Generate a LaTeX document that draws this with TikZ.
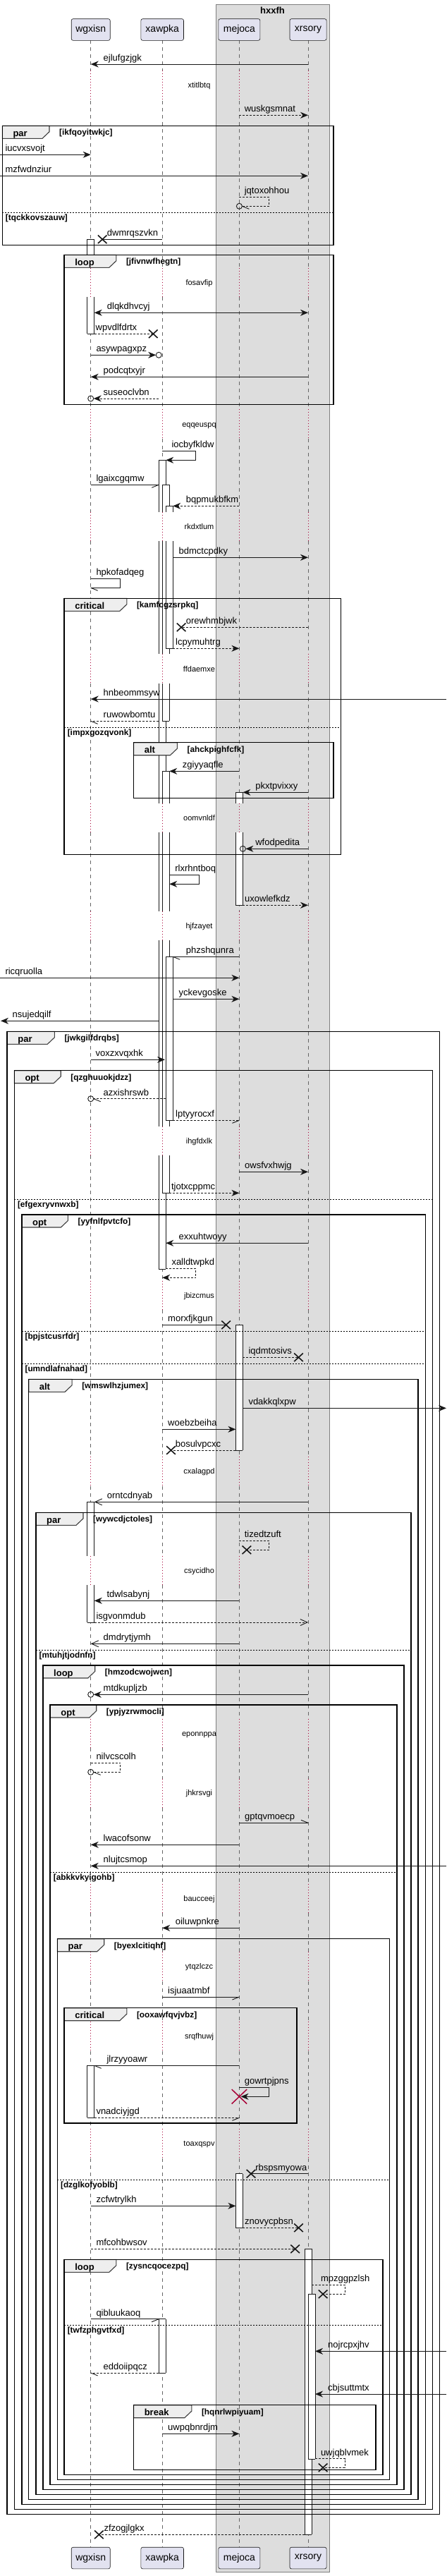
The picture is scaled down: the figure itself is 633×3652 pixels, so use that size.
\documentclass[tikz,border=0pt]{standalone}
\usepackage{fontspec}
\setmainfont{Liberation Sans}
\usetikzlibrary{arrows.meta,shapes.misc}
\definecolor{pcol}{HTML}{E2E2F0}
\definecolor{gbox}{HTML}{DDDDDD}
\definecolor{crim}{HTML}{A80036}
\definecolor{ink}{HTML}{181818}
\definecolor{tabc}{HTML}{EEEEEE}
\tikzset{
 part/.style={draw=ink, fill=pcol, line width=0.6pt, rounded corners=2.5pt, minimum height=30.6pt, inner sep=0pt, font=\fontsize{14}{16}\selectfont},
 lifeline/.style={draw=black!60, line width=0.7pt, dash pattern=on 5pt off 5pt},
 dline/.style={draw=crim, line width=0.8pt, dash pattern=on 1pt off 3pt},
 msg/.style={draw=ink, line width=0.9pt},
 dmsg/.style={msg, dash pattern=on 3pt off 2pt},
 tipF/.style={-{Stealth[length=11pt,width=9pt,inset=3.5pt]}},
 tipB/.style={-{Straight Barb[length=10pt,width=9pt]}},
 F/.style={msg,tipF}, DF/.style={dmsg,tipF}, B/.style={msg,tipB}, DB/.style={dmsg,tipB},
 lbl/.style={anchor=base west, inner sep=0pt, font=\fontsize{13}{15}\selectfont},
 dlbl/.style={anchor=base, inner sep=0pt, font=\fontsize{11}{13}\selectfont},
 cond/.style={anchor=base west, inner sep=0pt, font=\bfseries\fontsize{11.8}{13}\selectfont},
 kw/.style={anchor=base west, inner sep=0pt, font=\bfseries\fontsize{13}{15}\selectfont},
 frm/.style={draw=black, line width=1.5pt},
 tabs/.style={fill=tabc, draw=black!75, line width=1.1pt},
 sepl/.style={draw=black, line width=0.8pt, dash pattern=on 2pt off 2pt},
 xm/.style={cross out, draw=ink, line width=1.6pt, minimum width=11pt, minimum height=10pt, inner sep=0pt},
 circ/.style={circle, draw=ink, line width=0.9pt, minimum size=8pt, inner sep=0pt},
 barline/.style={draw=ink, line width=0.9pt},
}
\newcommand{\aseg}[5]{%
 \fill[white] (#1,#2) rectangle ({#1+10},#3);
 \draw[barline] (#1,#2) -- (#1,#3);
 \draw[barline] ({#1+10},#2) -- ({#1+10},#3);
 \ifnum#4=1 \draw[barline] (#1,#2) -- ({#1+10},#2);\fi
 \ifnum#5=1 \draw[barline] (#1,#3) -- ({#1+10},#3);\fi}
\newcommand{\sqmsg}[7]{%
 \coordinate (#1a) at (#3,#5); \coordinate (#1b) at (#4,#5);
 \draw[#2] (#1a) -- (#1b);
 \node[lbl] (#1t) at (#6,{#5-4.5}) {#7};}
\newcommand{\selfm}[9]{%
 \coordinate (#1a) at (#3,#5); \coordinate (#1b) at (#7,#6);
 \draw[#2] (#1a) -- (#4,#5) -- (#4,#6) -- (#1b);
 \node[lbl] (#1t) at (#8,{#5-4.5}) {#9};}
\newcommand{\frmbox}[8]{%
 \draw[tabs] (#2,#4) -- (#6,#4) -- (#6,{#4+8.5}) -- ({#6-10},{#4+18}) -- (#2,{#4+18}) -- cycle;
 \draw[frm] (#2,#4) rectangle (#3,#5);
 \node[kw] (#1k) at ({#2+15},{#4+15}) {#7};
 \node[cond] (#1c) at ({#6+14},{#4+13.5}) {#8};}
\newcommand{\fsep}[5]{%
 \draw[sepl] (#2,#4) -- (#3,#4);
 \node[cond] (#1) at ({#2+4.5},{#4+11}) {#5};}
\newcommand{\dly}[3]{\node[dlbl] (#1) at (282.5,{#2+3.5}) {#3};}
\newcommand{\xat}[3]{\node[xm] (#1) at (#2,#3) {};}
\newcommand{\cat}[3]{\node[circ] (#1) at (#2,#3) {};}
\newcommand{\hst}[3]{\draw[msg] (#1) -- ++(#2,#3);}
\def\dashsegs{57.3/100, 143.3/380, 420.7/580, 622/725.7, 767.3/926.7, 969.3/1138.7, 1180/1291.7, 1332.7/1596.7, 1638.3/1815.7, 1857.3/2065, 2107/2205.7, 2247.3/2436.7, 2478.3/2521.5, 2563/2670.7, 2712.3/2767.3, 2809/2865.7, 2907.5/3018.3, 3060/3610.7}
\def\dotsegs{100/143.3, 380/420.7, 580/622, 725.7/767.3, 926.7/969.3, 1138.7/1180, 1291.7/1332.7, 1596.7/1638.3, 1815.7/1857.3, 2065/2107, 2205.7/2247.3, 2436.7/2478.3, 2521.5/2563, 2670.7/2712.3, 2767.3/2809, 2865.7/2907.5, 3018.3/3060}
\begin{document}
\begin{tikzpicture}[x=1pt,y=-1pt]
\useasboundingbox (0,0) rectangle (633,3652);
\fill[white] (0,0) rectangle (633,3652);
% group box
\draw[fill=gbox, draw=black!50, line width=0.6pt] (306,6) rectangle (467,3646.7);
\node[anchor=base, inner sep=0pt, font=\bfseries\fontsize{13}{15}\selectfont] (grp) at (386.5,19) {hxxfh};
% lifelines
\foreach \lx in {128.7,230.2,339.4,437}{
 \foreach \a/\b in \dashsegs {\draw[lifeline] (\lx,\a) -- (\lx,\b);}
 \foreach \a/\b in \dotsegs {\draw[dline] (\lx,\a) -- (\lx,\b);}
}
% participants
\node[part, minimum width=55pt] (wgT) at (128.7,42) {wgxisn};
\node[part, minimum width=60.6pt] (xaT) at (230.2,42) {xawpka};
\node[part, minimum width=59pt] (meT) at (339.4,42) {mejoca};
\node[part, minimum width=52.1pt] (xrT) at (437,42) {xrsory};
\node[part, minimum width=55pt] (wgB) at (128.7,3626.5) {wgxisn};
\node[part, minimum width=60.6pt] (xaB) at (230.2,3626.5) {xawpka};
\node[part, minimum width=59pt] (meB) at (339.4,3626.5) {mejoca};
\node[part, minimum width=52.1pt] (xrB) at (437,3626.5) {xrsory};
% activation bars
\aseg{123.7}{339.3}{380}{1}{0}
\aseg{123.7}{420.7}{473.3}{0}{1}
\aseg{123.7}{2129.3}{2205.7}{1}{0}
\aseg{123.7}{2247.3}{2300}{0}{1}
\aseg{123.7}{2928.3}{3002.3}{1}{1}
\aseg{225.2}{652.3}{725.7}{1}{0}
\aseg{225.2}{767.3}{926.7}{0}{0}
\aseg{225.2}{969.3}{1138.7}{0}{0}
\aseg{225.2}{1180}{1291.7}{0}{0}
\aseg{225.2}{1332.7}{1596.7}{0}{0}
\aseg{225.2}{1638.3}{1799.3}{0}{1}
\aseg{230.2}{687.3}{725.7}{1}{0}
\aseg{230.2}{767.3}{926.7}{0}{0}
\aseg{230.2}{969.3}{1022.3}{0}{1}
\aseg{235.2}{717.3}{725.7}{1}{0}
\aseg{235.2}{767.3}{919.3}{0}{1}
\aseg{230.2}{1093.3}{1138.7}{1}{0}
\aseg{230.2}{1180}{1291.7}{0}{0}
\aseg{230.2}{1332.7}{1596.7}{0}{0}
\aseg{230.2}{1638.3}{1691.3}{0}{1}
\aseg{235.2}{1356.3}{1588.3}{1}{1}
\aseg{225.2}{3287.7}{3364}{1}{1}
\aseg{334.4}{1123.3}{1138.7}{1}{0}
\aseg{334.4}{1180}{1283.3}{0}{1}
\aseg{334.4}{1878.3}{2056}{1}{1}
\aseg{334.4}{3081.7}{3158.3}{1}{1}
\aseg{432}{3188.3}{3593.3}{1}{1}
\aseg{437}{3252.3}{3486}{1}{1}
% frames
\frmbox{f1}{3.3}{473}{178.3}{347.3}{70}{par}{[ikfqoyitwkjc]}
\fsep{s1}{3.3}{473}{301.7}{[tqckkovszauw]}
\frmbox{f2}{91.1}{473.1}{361.3}{573.3}{164.8}{loop}{[jfivnwfhegtn]}
\frmbox{f3}{91.1}{483.3}{848.3}{1211.7}{179.8}{critical}{[kamfcgzsrpkq]}
\fsep{s3}{91.1}{483.3}{1031.3}{[impxgozqvonk]}
\frmbox{f4}{189.6}{473.1}{1052.7}{1131.3}{251.4}{alt}{[ahckpighfcfk]}
\frmbox{f5}{10.2}{623.7}{1462.3}{3564.3}{77.3}{par}{[jwkgilfdrqbs]}
\frmbox{f6}{20.3}{613.5}{1517.7}{3557.3}{86.2}{opt}{[qzghuuokjdzz]}
\fsep{s6}{20.3}{613.5}{1700.3}{[efgexryvnwxb]}
\frmbox{f7}{30.9}{603.3}{1722}{3550.3}{96.4}{opt}{[yyfnlfpvtcfo]}
\fsep{s7a}{30.9}{603.3}{1887.3}{[bpjstcusrfdr]}
\fsep{s7b}{30.9}{603.3}{1933.3}{[umndlafnahad]}
\frmbox{f8}{40.7}{593.2}{1955.3}{3543.3}{102.1}{alt}{[wmswlhzjumex]}
\frmbox{f9}{50.9}{583}{2144.3}{3536.3}{118}{par}{[wywcdjctoles]}
\fsep{s9}{50.9}{583}{2339.3}{[mtuhjtjodnfn]}
\frmbox{f10}{61}{572.8}{2361}{3529.3}{134.7}{loop}{[hmzodcwojwcn]}
\frmbox{f11}{71.2}{563}{2417}{3522.3}{136.7}{opt}{[ypjyzrwmocli]}
\fsep{s11}{71.2}{563}{2654.3}{[abkkvkyigohb]}
\frmbox{f12}{81.4}{552.5}{2748.7}{3515.3}{147.7}{par}{[byexlcitiqhf]}
\fsep{s12}{81.4}{552.5}{3090}{[dzglkofyoblb]}
\frmbox{f13}{91.1}{421.1}{2846.7}{3010}{179.8}{critical}{[ooxawfqvjvbz]}
\frmbox{f14}{91.1}{543.1}{3203.3}{3508.3}{164.8}{loop}{[zysncqocezpq]}
\fsep{s14}{91.1}{543.1}{3296.3}{[twfzphgvtfxd]}
\frmbox{f15}{189.6}{533}{3409.7}{3501.7}{271.8}{break}{[hqnrlwpiyuam]}
% delays
\dly{d1}{121}{xtitlbtq}
\dly{d2}{401}{fosavfip}
\dly{d3}{601.7}{eqqeuspq}
\dly{d4}{747.3}{rkdxtlum}
\dly{d5}{949.3}{ffdaemxe}
\dly{d6}{1160}{oomvnldf}
\dly{d7}{1313.3}{hjfzayet}
\dly{d8}{1618.3}{ihgfdxlk}
\dly{d9}{1836.7}{jbizcmus}
\dly{d10}{2086}{cxalagpd}
\dly{d11}{2227.3}{csycidho}
\dly{d12}{2457.7}{eponnppa}
\dly{d13}{2542.3}{jhkrsvgi}
\dly{d14}{2691.7}{baucceej}
\dly{d15}{2788.3}{ytqzlczc}
\dly{d16}{2886.7}{srqfhuwj}
\dly{d17}{3039}{toaxqspv}
% messages
\sqmsg{m1}{F}{437}{128.7}{91}{146.5}{ejlufgzjgk}
\sqmsg{m2}{DF}{339.4}{437}{163.3}{346.6}{wuskgsmnat}
\sqmsg{m3}{F}{0}{128.7}{219.3}{7.3}{iucvxsvojt}
\sqmsg{m4}{F}{0}{437}{249.3}{7.3}{mzfwdnziur}
\selfm{m5}{dmsg}{339.4}{381.6}{279.3}{292.3}{343.4}{346.6}{jqtoxohhou}
\cat{m5c}{339.4}{292.3}
\hst{m5b}{10}{4}
\sqmsg{m7}{msg}{230.2}{145.2}{339.3}{151.7}{dwmrqszvkn}
\xat{m7x}{145.2}{339.3}
\sqmsg{m8}{msg,{Stealth[length=11pt,width=9pt,inset=3.5pt]}-{Stealth[length=11pt,width=9pt,inset=3.5pt]}}{133.7}{437}{443.3}{151.7}{dlqkdhvcyj}
\sqmsg{m9}{dmsg}{133.7}{217.3}{473.3}{135.5}{wpvdlfdrtx}
\xat{m9x}{217.3}{473.3}
\sqmsg{m10}{F}{128.7}{221.2}{503.3}{136.3}{asywpagxpz}
\cat{m10c}{225.2}{503.3}
\sqmsg{m11}{F}{437}{128.7}{534.3}{146.5}{podcqtxyjr}
\sqmsg{m12}{DF}{225.2}{132.7}{565}{146.5}{suseoclvbn}
\cat{m12c}{128.7}{565}
\selfm{m13}{F}{230.2}{277.5}{639.3}{652.3}{235.2}{243.3}{iocbyfkldw}
\sqmsg{m14}{msg}{128.7}{225.2}{687.3}{136.3}{lgaixcgqmw}
\hst{m14b}{-10}{4}
\sqmsg{m15}{DF}{339.4}{245.2}{717.3}{263.6}{bqpmukbfkm}
\sqmsg{m16}{F}{245.2}{437}{790.3}{253.5}{bdmctcpdky}
\selfm{m17}{msg}{128.7}{170.9}{820.3}{833.3}{128.7}{136.3}{hpkofadqeg}
\hst{m17b}{10}{4}
\sqmsg{m18}{dmsg}{437}{257.1}{889.3}{263.6}{orewhmbjwk}
\xat{m18x}{257.1}{889.3}
\sqmsg{m19}{DF}{245.2}{339.4}{919.3}{249}{lcpymuhtrg}
\sqmsg{m20}{F}{633}{128.7}{991}{146.5}{hnbeommsyw}
\sqmsg{m21}{dmsg}{225.2}{128.7}{1022.3}{146.5}{ruwowbomtu}
\hst{m21b}{10}{4}
\sqmsg{m22}{F}{339.4}{240.2}{1093.3}{258.7}{zgiyyaqfle}
\sqmsg{m23}{F}{437}{344.4}{1123.3}{362.1}{pkxtpvixxy}
\sqmsg{m24}{F}{437}{348.4}{1203.3}{362.1}{wfodpedita}
\cat{m24c}{344.4}{1203.3}
\selfm{m25}{F}{240.2}{282.7}{1240.3}{1253.3}{240.2}{248.2}{rlxrhntboq}
\sqmsg{m26}{DF}{344.4}{437}{1283.3}{347}{uxowlefkdz}
\sqmsg{m27}{msg}{339.4}{245.2}{1356.3}{263.6}{phzshqunra}
\hst{m27b}{10}{4}
\sqmsg{m28}{F}{0}{339.4}{1386.3}{7.3}{ricqruolla}
\sqmsg{m29}{F}{245.2}{339.4}{1416.3}{253.5}{yckevgoske}
\sqmsg{m30}{F}{225.2}{1}{1447.3}{17.5}{nsujedqilf}
\sqmsg{m31}{F}{128.7}{234}{1502.3}{135.5}{voxzxvqxhk}
\sqmsg{m32}{dmsg}{235.2}{132.7}{1557.7}{146.5}{azxishrswb}
\cat{m32c}{128.7}{1557.7}
\hst{m32b}{10}{4}
\sqmsg{m33}{dmsg}{245.2}{339.4}{1588.3}{249}{lptyyrocxf}
\hst{m33b}{-10}{4}
\sqmsg{m34}{F}{339.4}{437}{1661.3}{347}{owsfvxhwjg}
\sqmsg{m35}{DF}{240.2}{339.4}{1691.3}{242.9}{tjotxcppmc}
\sqmsg{m36}{F}{437}{235.2}{1762.3}{253.5}{exxuhtwoyy}
\selfm{m37}{DF}{235.2}{277.9}{1798.3}{1811.3}{230.2}{243.3}{xalldtwpkd}
\sqmsg{m38}{msg}{230.2}{320.6}{1878.3}{238}{morxfjkgun}
\xat{m38x}{320.6}{1878.3}
\sqmsg{m39}{dmsg}{344.4}{423.5}{1924.3}{352.3}{iqdmtosivs}
\xat{m39x}{423.5}{1924.3}
\sqmsg{m40}{F}{344.4}{633}{1996.3}{352.3}{vdakkqlxpw}
\sqmsg{m41}{F}{230.2}{334.4}{2026.3}{238}{woebzbeiha}
\sqmsg{m42}{dmsg}{334.4}{242.5}{2056}{248.6}{bosulvpcxc}
\xat{m42x}{242.5}{2056}
\sqmsg{m43}{B}{437}{133.7}{2129.3}{151.7}{orntcdnyab}
\selfm{m44}{dmsg}{339.4}{381.6}{2184.3}{2197.3}{349.9}{346.6}{tizedtzuft}
\xat{m44x}{349.9}{2197.3}
\sqmsg{m45}{F}{339.4}{133.7}{2269.3}{151.3}{tdwlsabynj}
\sqmsg{m46}{DB}{133.7}{437}{2300}{136.3}{isgvonmdub}
\sqmsg{m47}{B}{339.4}{128.7}{2330.3}{146.5}{dmdrytjymh}
\sqmsg{m48}{F}{437}{132.7}{2402.3}{146.5}{mtdkupljzb}
\cat{m48c}{128.7}{2402.3}
\selfm{m49}{dmsg}{128.7}{170.9}{2499.3}{2512.3}{132.7}{136.3}{nilvcscolh}
\cat{m49c}{128.7}{2512.3}
\hst{m49b}{10}{4}
\sqmsg{m50}{msg}{339.4}{437}{2584.3}{347}{gptqvmoecp}
\hst{m50b}{-10}{-4}
\sqmsg{m51}{F}{339.4}{128.7}{2615.3}{146.5}{lwacofsonw}
\sqmsg{m52}{F}{633}{128.7}{2645.3}{146.5}{nlujtcsmop}
\sqmsg{m53}{F}{339.4}{230.2}{2733.3}{248.6}{oiluwpnkre}
\sqmsg{m54}{msg}{230.2}{339.4}{2831}{238}{isjuaatmbf}
\hst{m54b}{-10}{4}
\sqmsg{m55}{msg}{339.4}{133.7}{2928.3}{151.3}{jlrzyyoawr}
\hst{m55b}{10}{4}
\selfm{m56}{F}{339.4}{381.6}{2959.3}{2972.3}{341.5}{346.6}{gowrtpjpns}
\node[cross out, draw=crim, line width=1.5pt, minimum width=20pt, minimum height=19pt, inner sep=0pt] (m56x) at (339.4,2972.3) {};
\sqmsg{m57}{dmsg}{133.7}{339.4}{3002.3}{136.3}{vnadciyjgd}
\hst{m57b}{-10}{4}
\sqmsg{m58}{msg}{437}{356}{3081.7}{362.1}{rbspsmyowa}
\xat{m58x}{356}{3081.7}
\sqmsg{m59}{F}{128.7}{334.4}{3127.3}{136.3}{zcfwtrylkh}
\sqmsg{m60}{dmsg}{344.4}{423.5}{3158.3}{347}{znovycpbsn}
\xat{m60x}{423.5}{3158.3}
\sqmsg{m61}{dmsg}{128.7}{418.6}{3188.3}{136.3}{mfcohbwsov}
\xat{m61x}{418.6}{3188.3}
\selfm{m62}{dmsg}{442}{489.4}{3239.3}{3252.3}{458.1}{454.8}{mpzggpzlsh}
\xat{m62x}{458.1}{3252.3}
\sqmsg{m63}{msg}{128.7}{225.2}{3287.7}{136.3}{qibluukaoq}
\hst{m63b}{-10}{4}
\sqmsg{m64}{F}{633}{447}{3333.3}{465}{nojrcpxjhv}
\sqmsg{m65}{dmsg}{225.2}{128.7}{3364}{146.5}{eddoiipqcz}
\hst{m65b}{10}{4}
\sqmsg{m66}{F}{633}{447}{3394}{465}{cbjsuttmtx}
\sqmsg{m67}{F}{230.2}{339.4}{3450.3}{238}{uwpqbnrdjm}
\selfm{m68}{dmsg}{447}{489.4}{3485.7}{3498.3}{458.1}{454.8}{uwjqblvmek}
\xat{m68x}{458.1}{3498.3}
\sqmsg{m69}{dmsg}{432}{140.4}{3593.3}{147.3}{zfzogjlgkx}
\xat{m69x}{140.4}{3593.3}
\end{tikzpicture}
\end{document}
